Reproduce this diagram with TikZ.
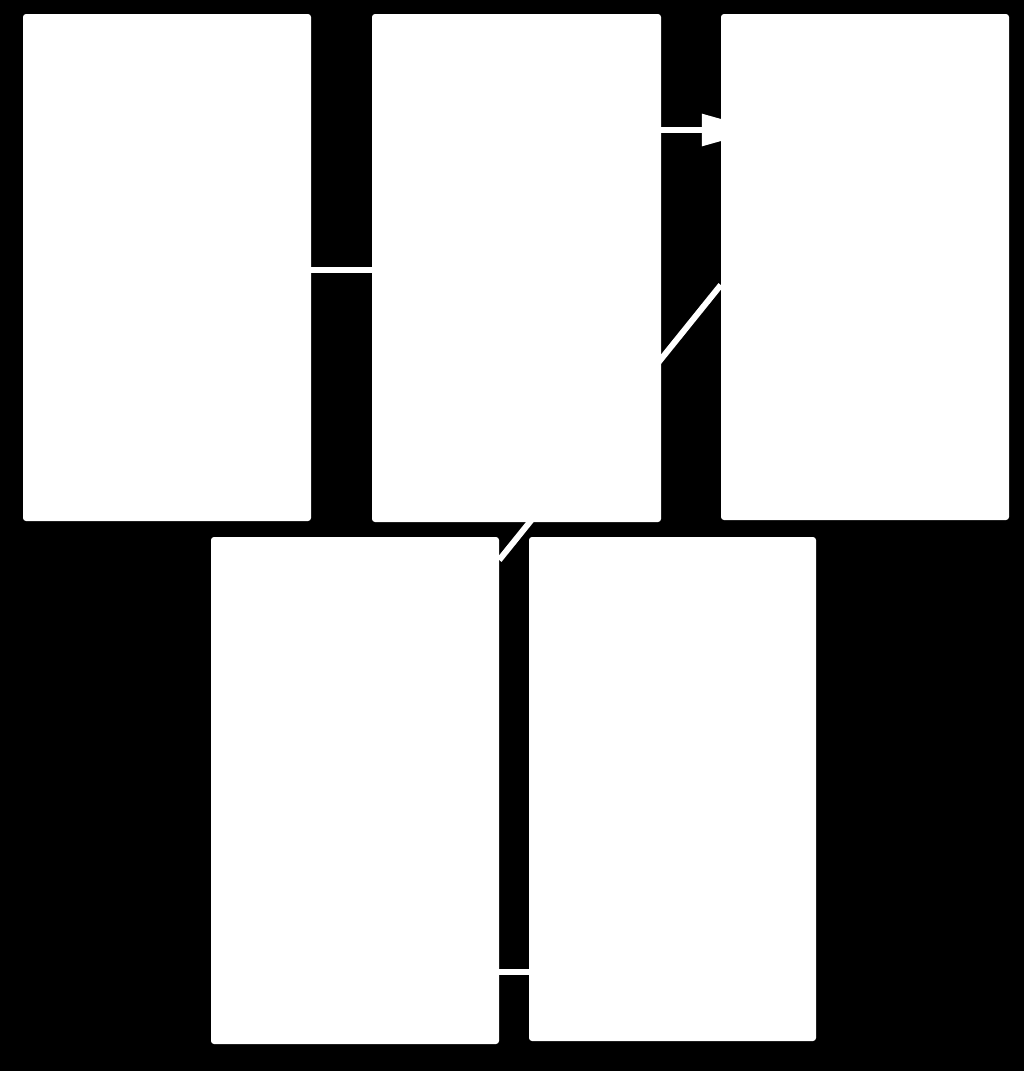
\documentclass[tikz,border=0pt]{standalone}
\usetikzlibrary{arrows.meta,backgrounds}
\begin{document}
\begin{tikzpicture}[x=1pt,y=-1pt,
  card/.style={rectangle,fill=white,draw=none,rounded corners=3pt,inner sep=0pt},
  link/.style={draw=white,line width=6pt}]
\useasboundingbox (0,0) rectangle (1024,1071);
\node[card,minimum width=288pt,minimum height=507pt] (A) at (167,267.5) {};
\node[card,minimum width=289pt,minimum height=508pt] (B) at (516.5,268) {};
\node[card,minimum width=288pt,minimum height=506pt] (C) at (865,267) {};
\node[card,minimum width=288pt,minimum height=507pt] (D) at (355,790.5) {};
\node[card,minimum width=287pt,minimum height=504pt] (E) at (672.5,789) {};
\begin{pgfonlayer}{background}
\fill[black] (0,0) rectangle (1024,1071);
\draw[link] ([yshift=-18pt]C.west) -- ([yshift=230.5pt]D.east);
\draw[link,-{Triangle[length=59pt,width=31pt]}] ([yshift=138pt]B.east) -- ([yshift=138pt,xshift=40pt]B.east -| C.west);
\end{pgfonlayer}
\draw[link] ([yshift=-2.5pt]A.east) -- ([yshift=-2.5pt]A.east -| B.west);
\draw[link] ([yshift=-181.5pt]D.east) -- ([yshift=-181.5pt]D.east -| E.west);
\end{tikzpicture}
\end{document}
